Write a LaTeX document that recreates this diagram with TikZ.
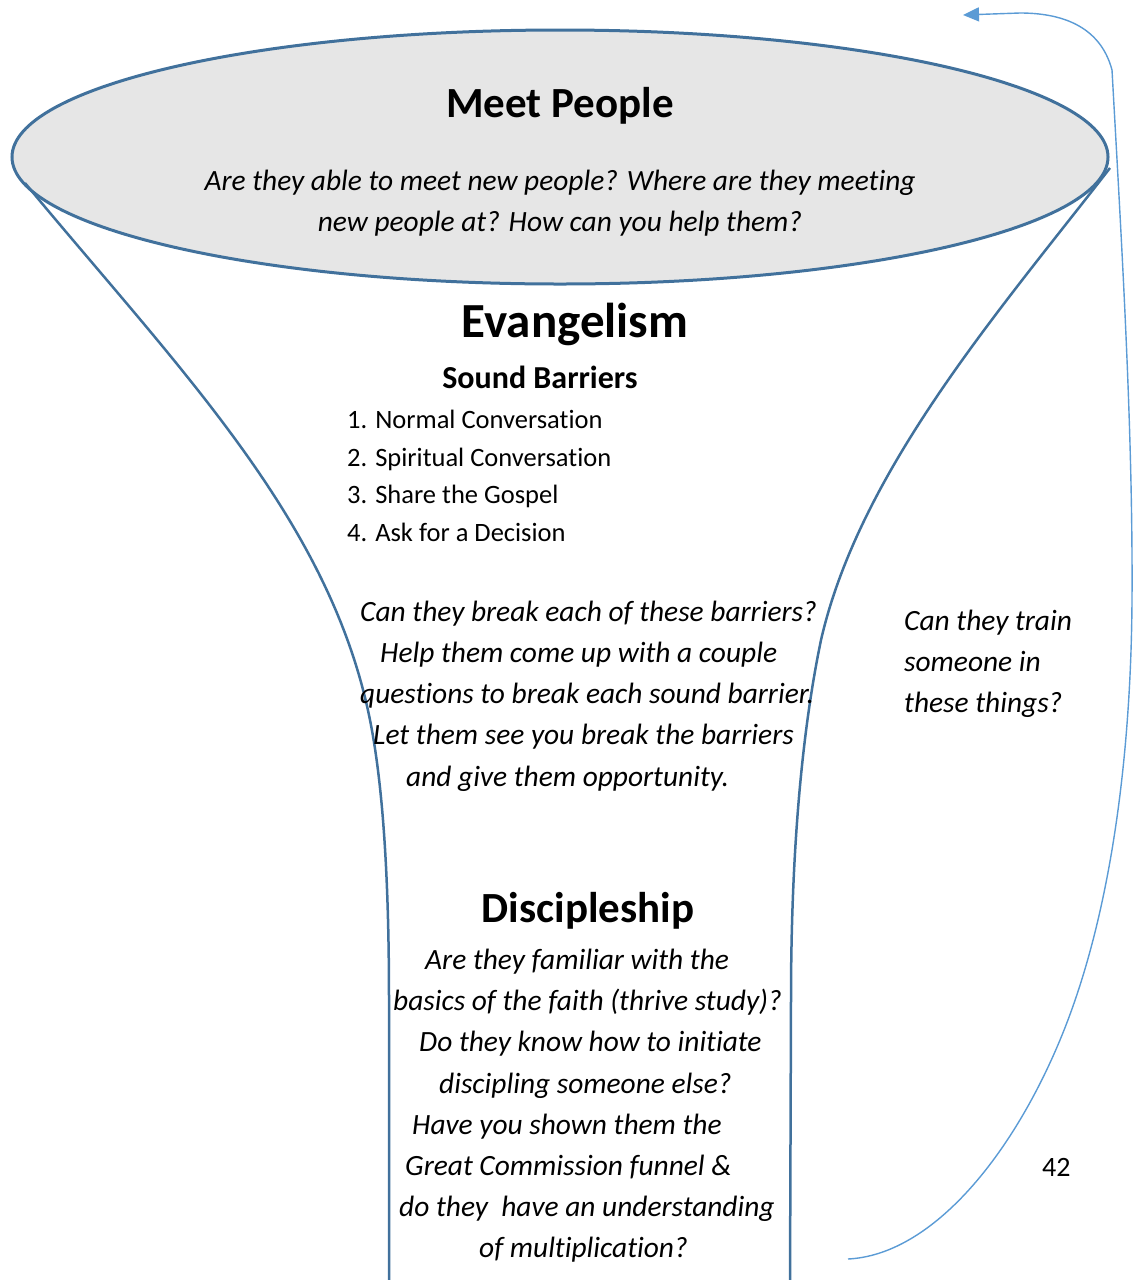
\documentclass[tikz,border=0pt]{standalone}
\usepackage{fontspec}
\setmainfont{Carlito}[Ligatures=NoCommon]
\usetikzlibrary{arrows.meta}
\definecolor{funnelblue}{HTML}{41719C}
\definecolor{arrowblue}{HTML}{5B9BD5}
\definecolor{topgray}{HTML}{E6E6E6}

\begin{document}
\begin{tikzpicture}[x=1bp,y=-1bp]
\tikzstyle{head} = [inner sep=0pt,anchor=base,font=\bfseries\fontsize{43bp}{50bp}\selectfont];
\tikzstyle{bighead} = [head,font=\bfseries\fontsize{49bp}{56bp}\selectfont];
\tikzstyle{subhead} = [head,font=\bfseries\fontsize{32bp}{38bp}\selectfont];
\tikzstyle{item} = [inner sep=0pt,anchor=base west,font=\fontsize{26.5bp}{38bp}\selectfont];
\tikzstyle{ask} = [inner sep=0pt,anchor=base west,font=\itshape\fontsize{29.4bp}{41bp}\selectfont];
\tikzstyle{askc} = [ask,anchor=base];
\tikzstyle{side} = [draw=funnelblue,line width=2.5bp];
\tikzstyle{loop} = [draw=arrowblue,line width=1.4bp,-{Triangle[length=16bp,width=14bp]}];
\useasboundingbox (0,0) rectangle (1133,1280);

% top of the funnel
\draw [side,line width=3bp,fill=topgray] (560,157) ellipse [x radius=548bp,y radius=127bp];
\draw [side] (25,183) .. controls (180,370) and (330,520) .. (370,720)
  .. controls (385,795) and (389,900) .. (389,1000) -- (389,1285);
\draw [side] (1110,168) .. controls (1000,310) and (860,470) .. (821,640)
  .. controls (796,760) and (791,900) .. (791,1000) -- (790,1285);

\node [head] (meet) at (560,117) {Meet People};
\node [askc] (m1) at (560,190) {Are they able to meet new people? Where are they meeting};
\node [askc] (m2) at (560,231) {new people at? How can you help them?};

% evangelism
\node [bighead] (evan) at (575,337) {Evangelism};
\node [subhead] (bar) at (540,388) {Sound Barriers};
\node [item] (b1) at (347,428) {1. Normal Conversation};
\node [item] (b2) at (347,466) {2. Spiritual Conversation};
\node [item] (b3) at (347,503) {3. Share the Gospel};
\node [item] (b4) at (347,541) {4. Ask for a Decision};

\node [ask] (e1) at (360,621) {Can they break each of these barriers?};
\node [ask] (e2) at (380,662) {Help them come up with a couple};
\node [ask] (e3) at (360,703) {questions to break each sound barrier.};
\node [ask] (e4) at (373,744) {Let them see you break the barriers};
\node [ask] (e5) at (406,786) {and give them opportunity.};

\node [ask] (t1) at (904,630) {Can they train};
\node [ask] (t2) at (904,671) {someone in};
\node [ask] (t3) at (904,712) {these things?};

% discipleship
\node [head] (disc) at (588,922) {Discipleship};
\node [ask] (d1) at (425,969) {Are they familiar with the};
\node [ask] (d2) at (393,1010) {basics of the faith (thrive study)?};
\node [ask] (d3) at (419,1051) {Do they know how to initiate};
\node [ask] (d4) at (439,1093) {discipling someone else?};
\node [ask] (d5) at (412,1134) {Have you shown them the};
\node [ask] (d6) at (405,1175) {Great Commission funnel \&};
\node [ask] (d7) at (399,1216) {do they\ \ have an understanding};
\node [ask] (d8) at (479,1257) {of multiplication?};

\node [item,font=\fontsize{28bp}{34bp}\selectfont] (page) at (1042,1176) {42};

% back to the top
\coordinate (a1) at (848,1259);
\coordinate (a2) at (963,15);
\draw [loop] (a1) .. controls (930,1255) and (1010,1160) .. (1060,1040)
  .. controls (1110,920) and (1131,760) .. (1132,600)
  .. controls (1133,430) and (1122,250) .. (1112,70)
  .. controls (1100,25) and (1060,13) .. (1020,13) -- (a2);
\end{tikzpicture}
\end{document}
